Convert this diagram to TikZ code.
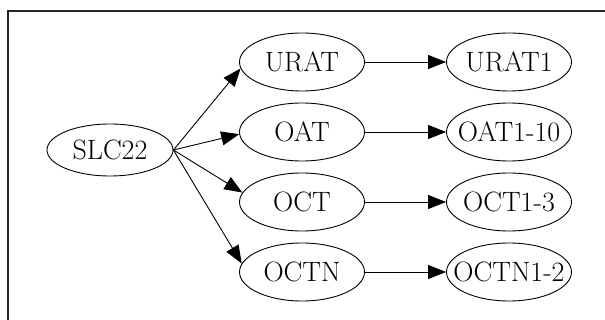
\documentclass[tikz,border=0pt]{standalone}
\usepackage{fontspec}
\usetikzlibrary{shapes.geometric,arrows.meta}
\newcommand{\zw}[1]{\makebox[0pt]{#1}}
\begin{document}
\begin{tikzpicture}[x=1pt,y=-1pt,
  gnode/.style={draw,ellipse,line width=0.9pt,inner sep=0pt,minimum width=125pt,minimum height=58pt,font=\fontsize{28}{32}\selectfont},
  edge/.style={draw,line width=0.9pt,-{Triangle[length=18pt,width=14pt]}}]
\useasboundingbox (0,0) rectangle (605,320);
\draw[line width=1.3pt,black!85] (8,320) -- (8,11) -- (605,11);
\node[gnode,minimum width=126pt,minimum height=52pt] (slc) at (110,150) {\zw{SLC22}};
\node[gnode] (urat) at (302,62) {\zw{URAT}};
\node[gnode] (oat) at (302,132) {\zw{OAT}};
\node[gnode] (oct) at (302,202) {\zw{OCT}};
\node[gnode] (octn) at (302,272) {\zw{OCTN}};
\node[gnode] (urat1) at (509,62) {\zw{URAT1}};
\node[gnode] (oat1) at (509,132) {\zw{OAT1-10}};
\node[gnode] (oct1) at (509,202) {\zw{OCT1-3}};
\node[gnode] (octn1) at (509,272) {\zw{OCTN1-2}};
\draw[edge] (slc.east) -- (urat.186);
\draw[edge] (slc.east) -- (oat.182);
\draw[edge] (slc.east) -- (oct.171);
\draw[edge] (slc.east) -- (octn.172);
\draw[edge] (urat) -- (urat1);
\draw[edge] (oat) -- (oat1);
\draw[edge] (oct) -- (oct1);
\draw[edge] (octn) -- (octn1);
\end{tikzpicture}
\end{document}
